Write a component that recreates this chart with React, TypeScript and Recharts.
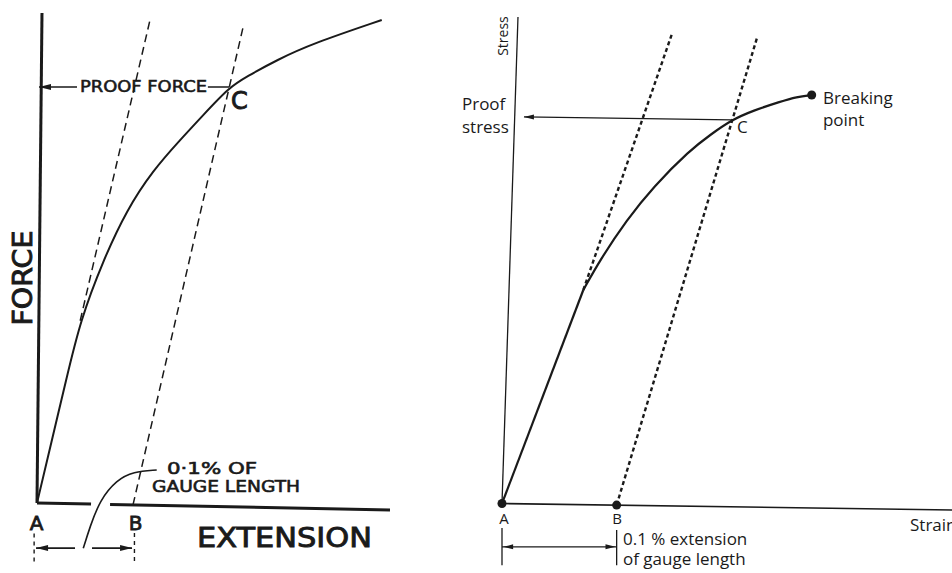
import { ComposedChart, Line, XAxis, YAxis, ReferenceDot } from 'recharts';

const INK = '#1a1a1a';

// ---------- left figure: force vs extension (extension in %, force in % of max) ----------
const forceCurve = [
  { x: 0, y: 0 }, { x: 0.015, y: 12.4 }, { x: 0.03, y: 24.8 }, { x: 0.045, y: 37.2 },
  { x: 0.0691, y: 49.59 }, { x: 0.0934, y: 59.8 }, { x: 0.1211, y: 67.96 }, { x: 0.149, y: 74.08 },
  { x: 0.1732, y: 79.18 }, { x: 0.2, y: 84.8 }, { x: 0.2184, y: 87.0 }, { x: 0.2497, y: 90.41 },
  { x: 0.2878, y: 93.82 }, { x: 0.3591, y: 98.57 },
];
const forceElastic = [{ x: 0.045, y: 37.2 }, { x: 0.1177, y: 98.57 }];
const forceOffset = [{ x: 0.1, y: -0.39 }, { x: 0.2149, y: 97.3 }];
const forceAxisY = [{ x: 0, y: 0 }, { x: 0.0052, y: 100 }];
const forceAxisX = [
  { x: 0, y: 0 }, { x: 0.0563, y: -0.22 }, { x: 0.066, y: null },
  { x: 0.0761, y: -0.3 }, { x: 0.3677, y: -1.43 },
];
const proofForceLine = [
  { x: 0.0021, y: 84.9 }, { x: 0.0417, y: 84.9 }, { x: 0.1, y: null },
  { x: 0.178, y: 84.9 }, { x: 0.2, y: 84.9 },
];
const gaugeDimLeft = [
  { x: -0.001, y: -9.2 }, { x: 0.0396, y: -9.2 }, { x: 0.048, y: null },
  { x: 0.0573, y: -9.2 }, { x: 0.099, y: -9.2 },
];
const gaugeLeader = [
  { x: 0.0482, y: -9.25 }, { x: 0.0552, y: -4.84 }, { x: 0.0656, y: 0.61 },
  { x: 0.083, y: 4.7 }, { x: 0.1003, y: 6.39 }, { x: 0.1247, y: 6.74 },
];
const tickA_left = [{ x: -0.003, y: -6.2 }, { x: -0.003, y: -12.0 }];
const tickB_left = [{ x: 0.1015, y: -6.1 }, { x: 0.1015, y: -12.2 }];
const forceArrowsLeft = [{ x: 0.0021, y: 84.9 }, { x: -0.001, y: -9.2 }];
const forceArrowsRight = [{ x: 0.099, y: -9.2 }];

// ---------- right figure: stress vs strain ----------
const stressLinear = [{ x: 0, y: 0 }, { x: 0.0707, y: 43.57 }];
const stressCurve = [
  { x: 0.0707, y: 43.57 }, { x: 0.0852, y: 49.69 }, { x: 0.1084, y: 57.86 }, { x: 0.1316, y: 64.65 },
  { x: 0.1635, y: 72.14 }, { x: 0.1809, y: 75.2 }, { x: 0.1997, y: 78.3 }, { x: 0.2185, y: 80.2 },
  { x: 0.2417, y: 82.0 }, { x: 0.2563, y: 83.0 }, { x: 0.2693, y: 83.37 },
];
const stressElastic = [{ x: 0.0707, y: 43.57 }, { x: 0.1478, y: 95.85 }];
const stressOffset = [{ x: 0.0997, y: -0.33 }, { x: 0.2217, y: 95.0 }];
const stressAxisY = [{ x: 0, y: 0 }, { x: 0.0139, y: 99.3 }];
const strainAxisX = [{ x: 0, y: 0 }, { x: 0.395, y: -1.34 }];
const proofStressLine = [{ x: 0.0191, y: 78.9 }, { x: 0.1997, y: 78.3 }];
const stressPoints = [{ x: 0, y: 0 }, { x: 0.0997, y: -0.33 }, { x: 0.2693, y: 83.37 }];
const tickA_right = [{ x: 0, y: -5.0 }, { x: 0, y: -12.6 }];
const tickB_right = [{ x: 0.0997, y: -5.4 }, { x: 0.0997, y: -12.6 }];
const gaugeDimRight = [{ x: 0, y: -8.85 }, { x: 0.0997, y: -8.85 }];
const stressArrowsLeft = [{ x: 0.0191, y: 78.9 }, { x: 0.001, y: -8.85 }];
const stressArrowsRight = [{ x: 0.0987, y: -8.85 }];

// ---------- labels ----------
const leftTags = {
  proof: { text: 'PROOF FORCE', x: 0.0448, y: 84.9 },
  c: { text: 'C', x: 0.2021, y: 82.0 },
  force: { text: 'FORCE', x: -0.0146, y: 45.9 },
  a: { text: 'A', x: -0.0005, y: -3.98 },
  b: { text: 'B', x: 0.1026, y: -3.98 },
  ext: { text: 'EXTENSION', x: 0.1667, y: -7.04 },
  pct: { text: '0·1% OF', x: 0.1354, y: 6.94 },
  gauge: { text: 'GAUGE LENGTH', x: 0.1198, y: 3.37 },
};
const rightTags = {
  stress: { text: 'Stress', x: 0.0004, y: 95.4 },
  proof1: { text: 'Proof', x: -0.0348, y: 81.63 },
  proof2: { text: 'stress', x: -0.0348, y: 76.94 },
  c: { text: 'C', x: 0.2043, y: 76.94 },
  break1: { text: 'Breaking', x: 0.2791, y: 82.86 },
  break2: { text: 'point', x: 0.2791, y: 78.37 },
  a: { text: 'A', x: 0.0017, y: -2.96 },
  b: { text: 'B', x: 0.1, y: -2.96 },
  strain: { text: 'Strain', x: 0.3548, y: -4.29 },
  ext1: { text: '0.1 % extension', x: 0.1052, y: -7.2 },
  ext2: { text: 'of gauge length', x: 0.1052, y: -11.2 },
};

type Pt = { x: number; y: number | null };
type Tag = { text: string; x: number; y: number };
type TS = {
  size: number; family: string; weight?: number; anchor?: 'start' | 'middle' | 'end';
  rotate?: number; length?: number; heavy?: number;
};

const LETTERING = '"DejaVu Sans", sans-serif';
const BOOK = '"Open Sans", sans-serif';

function path(key: string, data: Pt[], width: number, dash?: string, smooth?: boolean) {
  return (
    <Line key={key} data={data} dataKey="y" type={smooth ? 'basis' : 'linear'} stroke={INK}
      strokeWidth={width} strokeDasharray={dash} dot={false} activeDot={false}
      isAnimationActive={false} connectNulls={false} legendType="none" />
  );
}

function tag(key: string, t: Tag, s: TS) {
  return (
    <ReferenceDot key={key} x={t.x} y={t.y} r={0} ifOverflow="visible"
      shape={(p: any) => (
        <text x={p.cx} y={p.cy} fontSize={s.size} fontFamily={s.family} fontWeight={s.weight ?? 400}
          textAnchor={s.anchor ?? 'start'} dominantBaseline="central" fill={INK}
          stroke={s.heavy ? INK : undefined} strokeWidth={s.heavy}
          textLength={s.length} lengthAdjust={s.length ? 'spacingAndGlyphs' : undefined}
          transform={s.rotate ? `rotate(${s.rotate} ${p.cx} ${p.cy})` : undefined}>
          {t.text}
        </text>
      )} />
  );
}

function arrows(key: string, pts: { x: number; y: number }[], dir: 1 | -1, len: number, half: number) {
  return pts.map((a, i) => (
    <ReferenceDot key={`${key}${i}`} x={a.x} y={a.y} r={0} ifOverflow="visible"
      shape={(p: any) => (
        <polygon fill={INK}
          points={`${p.cx},${p.cy} ${p.cx - dir * len},${p.cy - half} ${p.cx - dir * len},${p.cy + half}`} />
      )} />
  ));
}

export default function App() {
  return (
    <div style={{ position: 'absolute', left: 0, top: 0, width: 952, height: 573, background: '#fff', overflow: 'hidden' }}>
      <div style={{ position: 'absolute', left: 0, top: 0 }}>
        <ComposedChart width={440} height={573} margin={{ top: 0, right: 0, bottom: 0, left: 0 }}>
          <XAxis type="number" dataKey="x" domain={[-0.03854, 0.41979]} allowDataOverflow hide />
          <YAxis type="number" dataKey="y" domain={[-14.286, 102.653]} allowDataOverflow hide />
          {path('ay', forceAxisY, 3)}
          {path('ax', forceAxisX, 3)}
          {path('curve', forceCurve, 2, undefined, true)}
          {path('el', forceElastic, 1.5, '8 5')}
          {path('off', forceOffset, 1.5, '8 5')}
          {path('pf', proofForceLine, 1.6)}
          {path('dim', gaugeDimLeft, 1.8)}
          {path('lead', gaugeLeader, 1.6, undefined, true)}
          {path('ta', tickA_left, 1.4, '4 4')}
          {path('tb', tickB_left, 1.4, '4 4')}
          {arrows('la', forceArrowsLeft, -1, 12, 3)}
          {arrows('ra', forceArrowsRight, 1, 12, 3)}
          {tag('t1', leftTags.proof, { size: 16, family: LETTERING, heavy: 0.6, length: 127 })}
          {tag('t2', leftTags.c, { size: 24, family: LETTERING, heavy: 0.9 })}
          {tag('t3', leftTags.force, { size: 26, family: LETTERING, heavy: 0.9, anchor: 'middle', rotate: -90, length: 95 })}
          {tag('t4', leftTags.a, { size: 20, family: LETTERING, heavy: 0.8, anchor: 'middle' })}
          {tag('t5', leftTags.b, { size: 20, family: LETTERING, heavy: 0.8, anchor: 'middle' })}
          {tag('t6', leftTags.ext, { size: 27, family: LETTERING, heavy: 0.9, length: 175 })}
          {tag('t7', leftTags.pct, { size: 16, family: LETTERING, heavy: 0.6, length: 90 })}
          {tag('t8', leftTags.gauge, { size: 16, family: LETTERING, heavy: 0.6, length: 148 })}
        </ComposedChart>
      </div>
      <div style={{ position: 'absolute', left: 440, top: 0 }}>
        <ComposedChart width={512} height={573} margin={{ top: 0, right: 0, bottom: 0, left: 0 }}>
          <XAxis type="number" dataKey="x" domain={[-0.05391, 0.3913]} allowDataOverflow hide />
          <YAxis type="number" dataKey="y" domain={[-14.184, 102.755]} allowDataOverflow hide />
          {path('ay', stressAxisY, 1.3)}
          {path('ax', strainAxisX, 1.6)}
          {path('lin', stressLinear, 2.2)}
          {path('curve', stressCurve, 2.2, undefined, true)}
          {path('el', stressElastic, 2.4, '4 3')}
          {path('off', stressOffset, 2.4, '4 3')}
          {path('ps', proofStressLine, 1.3)}
          {path('ta', tickA_right, 1.3)}
          {path('tb', tickB_right, 1.3)}
          {path('dim', gaugeDimRight, 1.3)}
          {stressPoints.map((d, i) => (
            <ReferenceDot key={`pt${i}`} x={d.x} y={d.y} r={4.5} fill={INK} stroke="none" ifOverflow="visible" />
          ))}
          {arrows('la', stressArrowsLeft, -1, 10, 2.5)}
          {arrows('ra', stressArrowsRight, 1, 10, 2.5)}
          {tag('s1', rightTags.stress, { size: 14, family: BOOK, anchor: 'middle', rotate: -90 })}
          {tag('s2', rightTags.proof1, { size: 17, family: BOOK })}
          {tag('s3', rightTags.proof2, { size: 17, family: BOOK })}
          {tag('s4', rightTags.c, { size: 17, family: BOOK })}
          {tag('s5', rightTags.break1, { size: 17, family: BOOK })}
          {tag('s6', rightTags.break2, { size: 17, family: BOOK })}
          {tag('s7', rightTags.a, { size: 15, family: BOOK, anchor: 'middle' })}
          {tag('s8', rightTags.b, { size: 15, family: BOOK, anchor: 'middle' })}
          {tag('s9', rightTags.strain, { size: 17, family: BOOK })}
          {tag('s10', rightTags.ext1, { size: 17, family: BOOK })}
          {tag('s11', rightTags.ext2, { size: 17, family: BOOK })}
        </ComposedChart>
      </div>
    </div>
  );
}
